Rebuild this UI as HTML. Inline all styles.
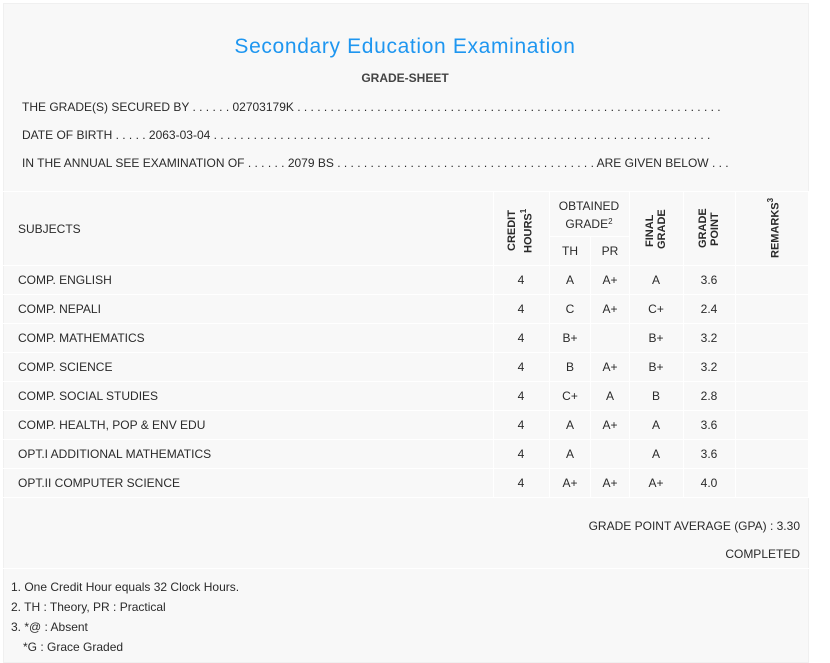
<!DOCTYPE html>
<html><head><meta charset="utf-8"><style>
*{margin:0;padding:0;box-sizing:border-box}
body{width:830px;height:645px;background:#fff;font-family:"Liberation Sans",sans-serif;color:#2a2a2a;font-size:12px;position:relative;overflow:hidden}
#c{position:absolute;left:3px;top:3px;width:806px;height:660px;background:#f8f8f8;border:1px solid #f0f0f0}
.a{position:absolute;white-space:nowrap}
.h{position:absolute;background:#fff;height:1px}
.v{position:absolute;background:#fff;width:1px}
.t{position:absolute;text-align:center;width:60px;margin-left:-30px}
.r{position:absolute;writing-mode:vertical-rl;transform:rotate(180deg);font-weight:bold;font-size:11px;line-height:12px;text-align:center}
</style></head><body>
<div id="c"></div>
<div class="a" style="left:0;width:810px;text-align:center;top:35px;font-size:21px;color:#1e96f0;letter-spacing:0.65px">Secondary Education Examination</div>
<div class="a" style="left:0;width:810px;text-align:center;top:71px;font-weight:bold;font-size:12px;color:#444">GRADE-SHEET</div>
<div class="a" style="left:22px;top:100px">THE GRADE(S) SECURED BY . . . . . . 02703179K . . . . . . . . . . . . . . . . . . . . . . . . . . . . . . . . . . . . . . . . . . . . . . . . . . . . . . . . . . . . . . . .</div>
<div class="a" style="left:22px;top:128px">DATE OF BIRTH . . . . . 2063-03-04 . . . . . . . . . . . . . . . . . . . . . . . . . . . . . . . . . . . . . . . . . . . . . . . . . . . . . . . . . . . . . . . . . . . . . . . . . . .</div>
<div class="a" style="left:22px;top:156px">IN THE ANNUAL SEE EXAMINATION OF . . . . . . 2079 BS . . . . . . . . . . . . . . . . . . . . . . . . . . . . . . . . . . . . . . . ARE GIVEN BELOW . . .</div>
<div class="h" style="left:3px;width:806px;top:191px"></div>
<div class="h" style="left:549px;width:80px;top:236px"></div>
<div class="h" style="left:3px;width:806px;top:265px"></div>
<div class="h" style="left:3px;width:806px;top:294px"></div>
<div class="h" style="left:3px;width:806px;top:323px"></div>
<div class="h" style="left:3px;width:806px;top:352px"></div>
<div class="h" style="left:3px;width:806px;top:381px"></div>
<div class="h" style="left:3px;width:806px;top:410px"></div>
<div class="h" style="left:3px;width:806px;top:439px"></div>
<div class="h" style="left:3px;width:806px;top:468px"></div>
<div class="h" style="left:3px;width:806px;top:497px"></div>
<div class="h" style="left:3px;width:806px;top:568px"></div>
<div class="v" style="left:493px;top:191px;height:306px"></div>
<div class="v" style="left:549px;top:191px;height:306px"></div>
<div class="v" style="left:590px;top:236px;height:261px"></div>
<div class="v" style="left:629px;top:191px;height:306px"></div>
<div class="v" style="left:683px;top:191px;height:306px"></div>
<div class="v" style="left:735px;top:191px;height:306px"></div>
<div class="v" style="left:808px;top:191px;height:306px"></div>
<div class="a" style="left:18px;top:222px">SUBJECTS</div>
<div class="r" style="left:506px;top:208px;height:46px">CREDIT<br>HOURS<sup style="font-size:8px">1</sup></div>
<div class="a" style="left:549px;width:80px;text-align:center;top:199px;line-height:15px">OBTAINED<br>GRADE<sup style="font-size:8px;vertical-align:4px">2</sup></div>
<div class="t" style="left:570px;top:244px">TH</div>
<div class="t" style="left:610px;top:244px">PR</div>
<div class="r" style="left:644px;top:213px;height:36px">FINAL<br>GRADE</div>
<div class="r" style="left:697px;top:210px;height:38px">GRADE<br>POINT</div>
<div class="r" style="left:765px;top:200px;height:58px">REMARKS<sup style="font-size:8px">3</sup></div>
<div id="rows"></div>
<script>
var d=[["COMP. ENGLISH","A","A+","A","3.6"],["COMP. NEPALI","C","A+","C+","2.4"],["COMP. MATHEMATICS","B+","","B+","3.2"],["COMP. SCIENCE","B","A+","B+","3.2"],["COMP. SOCIAL STUDIES","C+","A","B","2.8"],["COMP. HEALTH, POP & ENV EDU","A","A+","A","3.6"],["OPT.I ADDITIONAL MATHEMATICS","A","","A","3.6"],["OPT.II COMPUTER SCIENCE","A+","A+","A+","4.0"]];
var h="";d.forEach(function(r,i){var y=273+i*29;
h+='<div class="a" style="left:18px;top:'+y+'px">'+r[0].replace("&","&amp;")+'</div>';
h+='<div class="t" style="left:521px;top:'+y+'px">4</div>';
h+='<div class="t" style="left:570px;top:'+y+'px">'+r[1]+'</div>';
h+='<div class="t" style="left:610px;top:'+y+'px">'+r[2]+'</div>';
h+='<div class="t" style="left:656px;top:'+y+'px">'+r[3]+'</div>';
h+='<div class="t" style="left:709px;top:'+y+'px">'+r[4]+'</div>';});
document.getElementById("rows").innerHTML=h;
</script>
<div class="a" style="right:30px;top:519px">GRADE POINT AVERAGE (GPA) : 3.30</div>
<div class="a" style="right:30px;top:547px">COMPLETED</div>
<div class="a" style="left:11px;top:580px">1. One Credit Hour equals 32 Clock Hours.</div>
<div class="a" style="left:11px;top:600px">2. TH : Theory, PR : Practical</div>
<div class="a" style="left:11px;top:620px">3. *@ : Absent</div>
<div class="a" style="left:23px;top:640px">*G : Grace Graded</div>
</body></html>
